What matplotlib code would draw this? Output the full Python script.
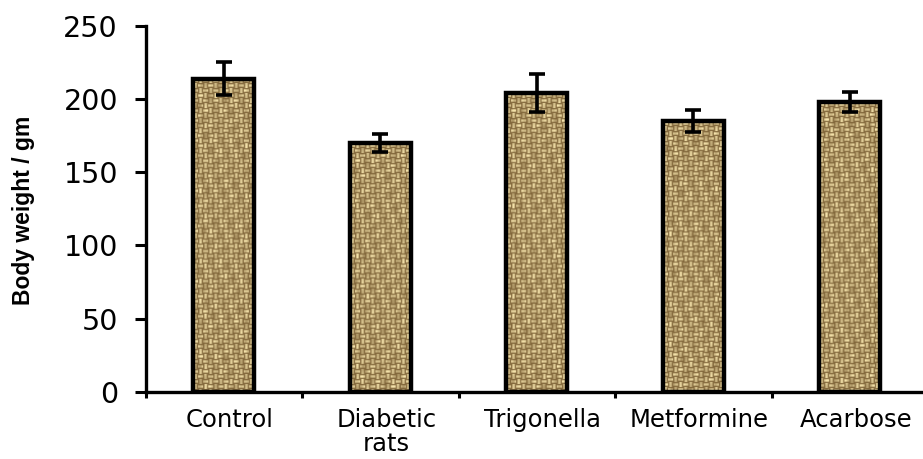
import matplotlib
matplotlib.use("Agg")
import matplotlib.pyplot as plt
import matplotlib.transforms as mtransforms
import numpy as np

groups = ["Control", "Diabetic\nrats", "Trigonella", "Metformine", "Acarbose"]
body_weight = [214, 170, 204, 185, 198]
weight_err = [11.5, 6.3, 13, 7.4, 6.8]
y_ticks = [0, 50, 100, 150, 200, 250]


def burlap(nrows, ncols, cell=5):
    # simple basket weave, deterministic
    yy, xx = np.mgrid[0:nrows, 0:ncols]
    ci = yy // cell
    cj = xx // cell
    horiz = (ci + cj) % 2 == 0
    prof = np.where(horiz,
                    np.sin(np.pi * (yy % cell + 0.5) / cell),
                    np.sin(np.pi * (xx % cell + 0.5) / cell))
    var = (0.72 + 0.2 * np.sin(xx * 0.37 + yy * 0.11) * np.cos(yy * 0.23 - xx * 0.05)
           + 0.15 * np.sin(yy * 0.071 + xx * 0.9) * np.sin(ci * 1.7 + cj * 2.3))
    t = np.clip(prof ** 1.5 * var + 0.05, 0, 1)
    dark = np.array([112, 84, 42]) / 255
    light = np.array([246, 228, 172]) / 255
    return dark + t[..., None] * (light - dark)


fig = plt.figure(figsize=(9.23, 4.59), dpi=100)
ax = fig.add_axes([145.7 / 923, (459 - 391.7) / 459, (928 - 145.7) / 923, (391.7 - 26) / 459])

x = np.arange(len(groups)) + 0.5
bars = ax.bar(x, body_weight, width=0.39, facecolor="none", edgecolor="black",
              linewidth=3.2, zorder=3)
ax.errorbar(x, body_weight, yerr=weight_err, fmt="none", ecolor="black",
            elinewidth=2.6, capsize=6, capthick=2.6, zorder=4)

ax.set_xlim(0, 5)
ax.set_ylim(0, 250)

# textured fill inside each bar
for rect in bars:
    x0, w, h = rect.get_x(), rect.get_width(), rect.get_height()
    p0 = ax.transData.transform((x0, 0))
    p1 = ax.transData.transform((x0 + w, h))
    ncols = int(abs(p1[0] - p0[0]))
    nrows = int(abs(p1[1] - p0[1]))
    ax.imshow(burlap(nrows, ncols), extent=(x0, x0 + w, 0, h), aspect="auto",
              origin="upper", interpolation="bilinear", zorder=2, clip_path=rect)
ax.set_xlim(0, 5)
ax.set_ylim(0, 250)

for side in ["top", "right"]:
    ax.spines[side].set_visible(False)
for side in ["left", "bottom"]:
    ax.spines[side].set_linewidth(2.4)

ax.set_xticks(np.arange(0, 6))
ax.set_xticklabels([])
ax.set_xticks(x, minor=True)
ax.set_xticklabels(groups, minor=True, fontsize=17.5, family="DejaVu Sans", linespacing=1.0)
ax.tick_params(axis="x", which="major", direction="out", length=4.5, width=2.2)
ax.tick_params(axis="x", which="minor", length=0, pad=12)

offset = mtransforms.ScaledTranslation(6 / 100, 0, fig.dpi_scale_trans)
for lab in ax.get_xticklabels(minor=True):
    lab.set_transform(lab.get_transform() + offset)

ax.set_yticks(y_ticks)
ax.set_yticklabels([str(v) for v in y_ticks], fontsize=20.5, family="DejaVu Sans")
ax.tick_params(axis="y", direction="out", length=8, width=2.2, pad=12)

fig.text(24 / 923, 1 - 210 / 459, "Body weight / gm", rotation=90, ha="center", va="center",
         fontsize=16.5, fontweight="bold", family="Liberation Sans")

fig.savefig("out.png", dpi=100)
